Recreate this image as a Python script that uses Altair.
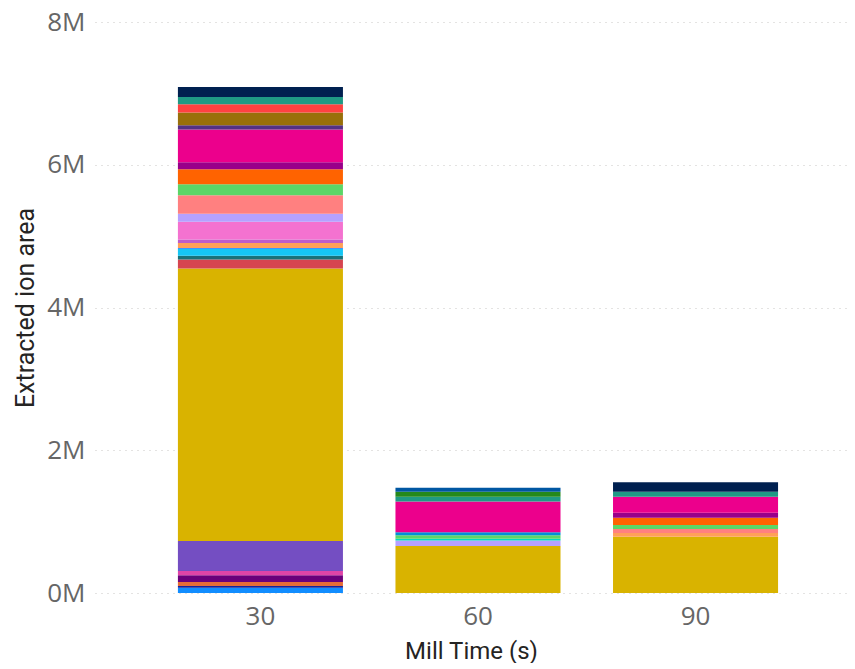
import altair as alt
import pandas as pd

mill_times = ["30", "60", "90"]

series_names = [f"Compound {i:02d}" for i in range(1, 30)]
series_colors = [
    "#118DFF", "#12239E", "#E66C37", "#6B007B", "#E044A7", "#744EC2",
    "#D9B300", "#D64550", "#197278", "#15C6F4", "#4092FF", "#FFA058",
    "#BE5DC9", "#F472D0", "#B5A1FF", "#FF8080", "#00DBBC", "#5BD667",
    "#0091D5", "#FF6300", "#99008A", "#EC008C", "#533285", "#99700A",
    "#FF4141", "#1F9A85", "#25891C", "#0057A2", "#002050",
]
# values in millions, one entry per series (same order as series_names)
values_30 = [0.074, 0.024, 0.056, 0.094, 0.060, 0.420, 3.820, 0.126, 0.050,
             0.094, 0.016, 0.070, 0.050, 0.246, 0.112, 0.262, 0.0, 0.154,
             0.0, 0.210, 0.098, 0.458, 0.060, 0.178, 0.116, 0.102, 0.0, 0.0,
             0.140]
values_60 = [0.0, 0.0, 0.0, 0.0, 0.0, 0.0, 0.658, 0.0, 0.0,
             0.0, 0.0, 0.0, 0.0, 0.0, 0.077, 0.0, 0.025, 0.049,
             0.042, 0.0, 0.0, 0.430, 0.0, 0.0, 0.0, 0.066, 0.070, 0.056,
             0.0]
values_90 = [0.0, 0.0, 0.0, 0.0, 0.0, 0.0, 0.789, 0.0, 0.0,
             0.0, 0.0, 0.052, 0.0, 0.0, 0.0, 0.056, 0.0, 0.056,
             0.0, 0.102, 0.070, 0.224, 0.0, 0.0, 0.0, 0.070, 0.0, 0.0,
             0.132]

rows = []
for i, name in enumerate(series_names):
    for t, vals in zip(mill_times, [values_30, values_60, values_90]):
        v = vals[i]
        if v > 0:
            rows.append({"time": t, "series": name, "order": i, "value": v * 1e6})
df = pd.DataFrame(rows)

label_font = "Open Sans"
title_font = "Roboto"

chart = alt.Chart(df).mark_bar().encode(
    x=alt.X(
        "time:N",
        sort=mill_times,
        title="Mill Time (s)",
        scale=alt.Scale(paddingInner=0.2414, paddingOuter=0.349, align=0.546),
        axis=alt.Axis(
            labelAngle=0, domain=False, ticks=False, grid=False,
            labelFont=label_font, labelFontSize=26,
            labelColor="#666666", labelPadding=10,
            titleFont=title_font, titleFontSize=24, titleColor="#252423",
            titleFontWeight="normal", titlePadding=10,
        ),
    ),
    y=alt.Y(
        "value:Q",
        stack="zero",
        title="Extracted ion area",
        scale=alt.Scale(domain=[0, 8e6], nice=False),
        axis=alt.Axis(
            values=[0, 2e6, 4e6, 6e6, 8e6],
            labelExpr="(datum.value / 1e6) + 'M'",
            domain=False, ticks=False,
            grid=True, gridColor="#C8C6C4", gridDash=[1, 5], gridWidth=1,
            labelFont=label_font, labelFontSize=26,
            labelColor="#666666", labelPadding=10,
            titleFont=title_font, titleFontSize=25, titleColor="#252423",
            titleFontWeight="normal", titlePadding=8,
        ),
    ),
    color=alt.Color(
        "series:N",
        scale=alt.Scale(domain=series_names, range=series_colors),
        legend=None,
    ),
    order=alt.Order("order:Q", sort="ascending"),
).properties(
    width=752,
    height=571,
    padding={"left": 87, "top": 14, "right": 0, "bottom": 70},
    autosize=alt.AutoSizeParams(type="none"),
).configure_view(stroke=None)

chart.save("out.html", embed_options={"renderer": "svg", "actions": False})
